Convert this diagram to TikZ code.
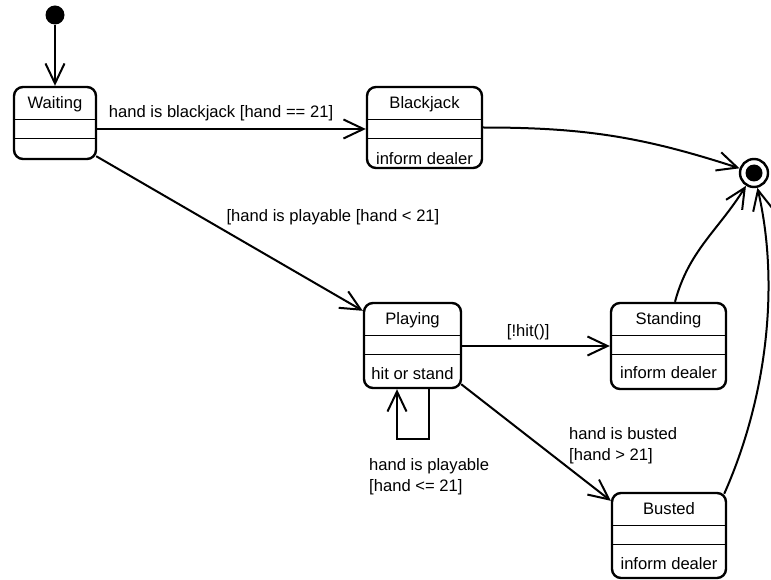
\documentclass[tikz,border=0pt]{standalone}
\usepackage{fontspec}
\setmainfont{Liberation Sans}
\usetikzlibrary{arrows.meta,calc}

\begin{document}
\begin{tikzpicture}[x=1pt, y=1pt,
    state/.style={draw, line width=2.4pt, rounded corners=9pt, inner sep=0pt},
    edge/.style={line width=2pt, -{Straight Barb[length=20pt,width=19pt]}},
    txt/.style={anchor=base, inner sep=0pt, font=\fontsize{16.6}{21}\selectfont},
    lbl/.style={txt, align=left, anchor=base west}]
\useasboundingbox (0,0) rectangle (771,-580);

    % Initial and final states
    \node[circle, fill, minimum size=19pt, inner sep=0pt] (init) at (55,-15) {};
    \node[circle, draw, line width=2.4pt, minimum size=28pt, inner sep=0pt] (final) at (754,-173) {};
    \node[circle, fill, minimum size=17pt, inner sep=0pt] (finaldot) at (final) {};

    % States
    \node[state, minimum width=82pt, minimum height=72pt] (wait) at (55,-123) {};
    \node[state, minimum width=115pt, minimum height=81pt] (bj) at (424.5,-127.5) {};
    \node[state, minimum width=97pt, minimum height=85pt] (play) at (412.5,-345.5) {};
    \node[state, minimum width=115pt, minimum height=86pt] (stand) at (668.5,-346) {};
    \node[state, minimum width=114pt, minimum height=85pt] (bust) at (669,-535.5) {};

    % Compartments
    \foreach \s in {wait,bj,play,stand,bust} {
        \draw[line width=1pt] ($(\s.north west)+(0,-34)$) -- ($(\s.north east)+(0,-34)$);
        \draw[line width=1pt] ($(\s.north west)+(0,-53)$) -- ($(\s.north east)+(0,-53)$);
    }

    % State names and activities
    \node[txt] (waitname) at ($(wait.north)+(0,-23)$) {Waiting};
    \node[txt] (bjname) at ($(bj.north)+(0,-23)$) {Blackjack};
    \node[txt] (bjdo) at ($(bj.south)+(0,5)$) {inform dealer};
    \node[txt] (playname) at ($(play.north)+(0,-23)$) {Playing};
    \node[txt] (playdo) at ($(play.south)+(0,10)$) {hit or stand};
    \node[txt] (standname) at ($(stand.north)+(0,-23)$) {Standing};
    \node[txt] (standdo) at ($(stand.south)+(0,12)$) {inform dealer};
    \node[txt] (bustname) at ($(bust.north)+(0,-23)$) {Busted};
    \node[txt] (bustdo) at ($(bust.south)+(0,10)$) {inform dealer};

    % Transitions
    \draw[edge] (init) -- (wait);
    \draw[edge] ([yshift=-6pt]wait.east) -- ([yshift=-1.5pt]bj.west)
        node[txt, pos=0.461, yshift=11pt] (lblbj) {hand is blackjack [hand == 21]};
    \draw[edge] (bj.east) to[out=0, in=162] (final);

    \draw[edge] ($(wait.south east)+(-1,4)$) -- ($(play.north west)+(0,-9)$);
    \node[txt] (lblplay) at (333,-222) {[hand is playable [hand < 21]};

    \draw[edge] ([yshift=-0.5pt]play.east) -- (stand.west)
        node[txt, pos=0.447, yshift=10pt] (lblhit) {[!hit()]};
    \draw[edge] ($(play.south east)+(-1,5)$) -- ($(bust.north west)+(0,-9)$);
    \node[lbl] (lblbust) at (569,-460) {hand is busted\\\relax[hand > 21]};

    % Self loop
    \draw[edge] ([xshift=16.5pt]play.south) -- ++(0,-50) -| ([xshift=-15.5pt]play.south);
    \node[lbl] (lblloop) at (369,-491) {hand is playable\\\relax[hand <= 21]};

    \draw[edge] ([xshift=6.5pt]stand.north) to[out=75, in=238] (final);
    \draw[edge] ($(bust.north east)+(-3,-2)$) to[out=66, in=283, looseness=0.85] (final);

\end{tikzpicture}
\end{document}
